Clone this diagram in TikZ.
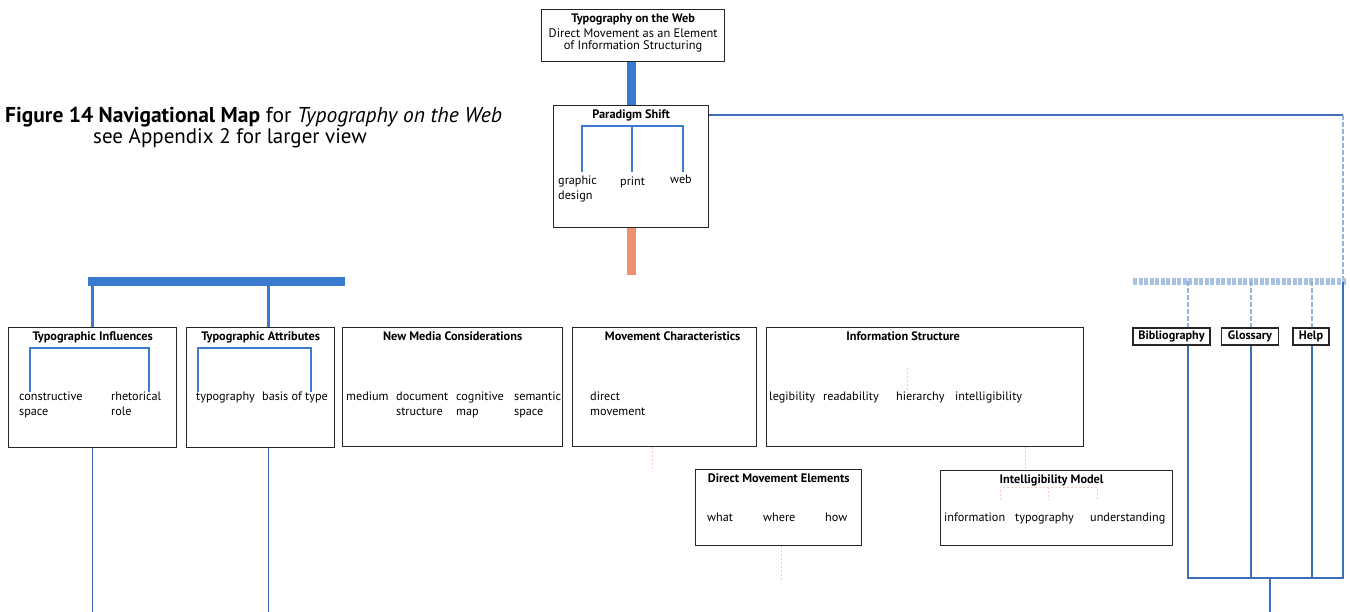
\documentclass[tikz,border=0pt]{standalone}
\usepackage{fontspec}
\setmainfont{PT Sans}
\usetikzlibrary{positioning, calc}
\definecolor{mapblue}{HTML}{3A7BD0}
\definecolor{linkblue}{HTML}{3D6FB8}
\definecolor{paleblue}{HTML}{A9C1E4}
\definecolor{salmon}{HTML}{EC9170}

\begin{document}
\begin{tikzpicture}[
    x=1pt, y=-1pt,
    box/.style 2 args={draw=black!85, line width=1.3pt, anchor=north west, inner sep=0pt, minimum width=#1, minimum height=#2},
    tab/.style={draw=black!85, line width=1.2pt, inner xsep=0pt, inner ysep=0pt, minimum width=#1, minimum height=17pt, font=\bfseries\fontsize{12.2}{13}\selectfont},
    ttl/.style={font=\bfseries\fontsize{12.3}{13}\selectfont, inner sep=0pt},
    lbl/.style={font=\fontsize{12.2}{15}\selectfont, align=left, anchor=north west, inner sep=0pt},
    bar/.style={line width=9pt, draw=mapblue},
    drop/.style={line width=3.5pt, draw=mapblue},
    link/.style={line width=1.6pt, draw=linkblue},
    brk/.style={line width=2pt, draw=mapblue},
    pale/.style={line width=7pt, draw=paleblue, dash pattern=on 4pt off 1.5pt},
    palelink/.style={line width=1.4pt, draw=paleblue!80!linkblue, dash pattern=on 5pt off 2pt},
    faint/.style={line width=0.9pt, draw=salmon!45, dash pattern=on 2pt off 2pt}
]
    \useasboundingbox (0,0) rectangle (1350,612);

    % caption
    \node [anchor=west, inner sep=0pt, font=\fontsize{21.5}{23}\selectfont] (cap) at (5,117) {\textbf{Figure 14 Navigational Map} for \textit{Typography on the Web}};
    \node [anchor=west, inner sep=0pt, font=\fontsize{21}{23}\selectfont] (capb) at (93,138) {see Appendix 2 for larger view};

    % top of the map
    \node [box={183pt}{52pt}] (web) at (541,9) {};
    \node [ttl, below=5pt of web.north] (webT) {Typography on the Web};
    \node [below=3pt of webT, inner sep=0pt, align=center, font=\fontsize{12.4}{12.2}\selectfont] (webS) {Direct Movement as an Element\\of Information Structuring};

    \node [box={155pt}{122pt}] (shift) at (553,105) {};
    \node [ttl, below=5pt of shift.north] (shiftT) {Paradigm Shift};
    \node [lbl] (sg) at (558,176) {graphic\\design};
    \node [lbl] (sp) at (620,177) {print};
    \node [lbl] (sw) at (670,175) {web};
    \draw [brk] (582,172) |- (683,126) -- (683,172);
    \draw [brk] (632,126) -- (632,172);

    % main row
    \node [box={168pt}{120pt}] (infl) at (8,327) {};
    \node [ttl, below=5pt of infl.north] (inflT) {Typographic Influences};
    \node [lbl] (i1) at (19,392) {constructive\\space};
    \node [lbl] (i2) at (111,392) {rhetorical\\role};
    \draw [brk] (30,392) |- (149,348) -- (149,392);

    \node [box={148pt}{120pt}] (attr) at (186,327) {};
    \node [ttl, below=5pt of attr.north] (attrT) {Typographic Attributes};
    \node [lbl] (a1) at (196,392) {typography};
    \node [lbl] (a2) at (262,392) {basis of type};
    \draw [brk] (198,392) |- (311,348) -- (311,392);

    \node [box={220pt}{119pt}] (media) at (342,327) {};
    \node [ttl, below=5pt of media.north] (mediaT) {New Media Considerations};
    \node [lbl] (m1) at (346,392) {medium};
    \node [lbl] (m2) at (396,392) {document\\structure};
    \node [lbl] (m3) at (456,392) {cognitive\\map};
    \node [lbl] (m4) at (514,392) {semantic\\space};

    \node [box={184pt}{119pt}] (move) at (572,327) {};
    \node [ttl, below=5pt of move.north, xshift=8pt] (moveT) {Movement Characteristics};
    \node [lbl] (v1) at (590,392) {direct\\movement};

    \node [box={317pt}{119pt}] (struct) at (766,327) {};
    \node [ttl, below=5pt of struct.north, xshift=-22pt] (structT) {Information Structure};
    \node [lbl] (s1) at (769,392) {legibility};
    \node [lbl] (s2) at (823,392) {readability};
    \node [lbl] (s3) at (896,392) {hierarchy};
    \node [lbl] (s4) at (955,392) {intelligibility};

    % second row
    \node [box={166pt}{76pt}] (elems) at (695,469) {};
    \node [ttl, below=5pt of elems.north] (elemsT) {Direct Movement Elements};
    \node [lbl] (e1) at (707,513) {what};
    \node [lbl] (e2) at (763,513) {where};
    \node [lbl] (e3) at (825,513) {how};

    \node [box={232pt}{75pt}] (model) at (940,470) {};
    \node [ttl, below=5pt of model.north, xshift=-5pt] (modelT) {Intelligibility Model};
    \node [lbl] (d1) at (944,513) {information};
    \node [lbl] (d2) at (1015,513) {typography};
    \node [lbl] (d3) at (1090,513) {understanding};

    % side tabs
    \node [tab=77pt] (bib) at (1171.5,336.5) {Bibliography};
    \node [tab=57pt] (gloss) at (1250,336.5) {Glossary};
    \node [tab=36pt] (help) at (1311,336.5) {Help};

    % connectors
    \coordinate (hub) at (630,275);
    \coordinate (lbar) at (88,282);
    \coordinate (lbarE) at (345,282);
    \coordinate (rbar) at (1133,282);
    \coordinate (rbarE) at (1346,282);
    \coordinate (corner) at (1343,115);
    \coordinate (foot) at (1270,578);
    \coordinate (floor) at (0,612);

    \draw [bar] (shift.north |- web.south) -- (shift.north);
    \draw [bar, draw=salmon] (shift.south) -- (shift.south |- hub);
    \draw [bar] (lbar) -- (lbarE);
    \draw [drop] (infl.north |- lbar) -- (infl.north);
    \draw [drop] ($(attr.north)+(8,-45)$) -- ($(attr.north)+(8,0)$);
    \draw [link] (infl.south) -- (infl.south |- floor);
    \draw [link] ($(attr.south)+(8,0)$) -- ($(attr.south)+(8,165)$);

    \draw [link] ([yshift=-10pt]shift.north east) -- (corner);
    \draw [palelink] (corner) -- (corner |- rbar);
    \draw [pale] (rbar) -- (rbarE);
    \draw [palelink] ($(bib.north)+(16.5,-46)$) -- ($(bib.north)+(16.5,0)$);
    \draw [palelink] ($(gloss.north)+(1,-46)$) -- ($(gloss.north)+(1,0)$);
    \draw [palelink] ($(help.north)+(1,-46)$) -- ($(help.north)+(1,0)$);
    \draw [link] ($(bib.south)+(16.5,0)$) |- (corner |- foot) -- (corner |- rbar);
    \draw [link] ($(gloss.south)+(1,0)$) -- ++(0,233);
    \draw [link] ($(help.south)+(1,0)$) -- ++(0,233);
    \draw [link] (foot) -- (foot |- floor);

    % faint traces
    \draw [faint] (907,368) -- (907,392);
    \draw [faint] ($(struct.south)+(100,0)$) -- ($(struct.south)+(100,23)$);
    \draw [faint] (1000,500) |- (1097,487) -- (1097,500);
    \draw [faint] (1048,487) -- (1048,500);
    \draw [faint] ($(move.south)+(-12,0)$) -- ($(move.south)+(-12,24)$);
    \draw [faint] ($(elems.south)+(3,0)$) -- ($(elems.south)+(3,35)$);
\end{tikzpicture}
\end{document}
